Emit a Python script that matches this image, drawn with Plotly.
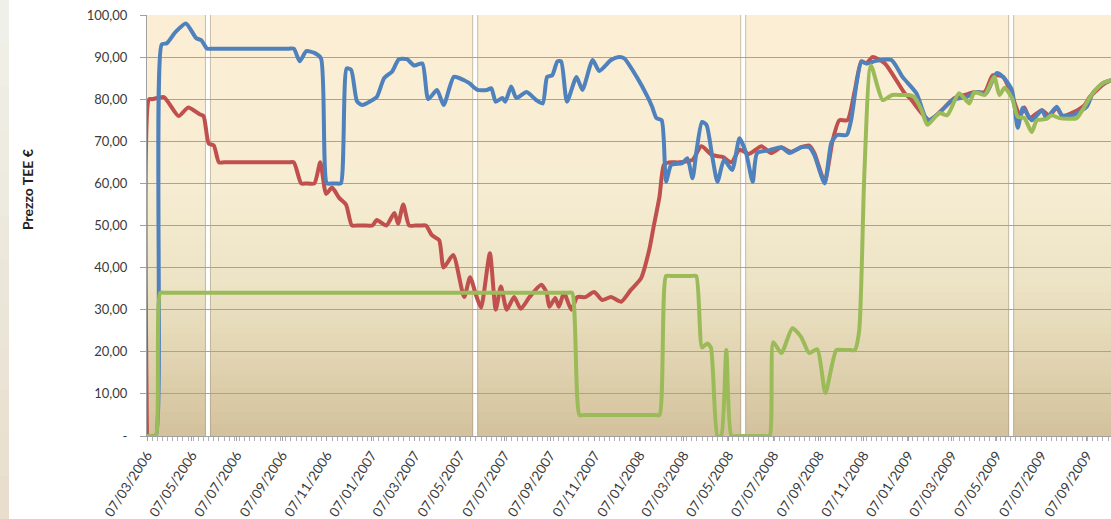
import plotly.graph_objects as go

# ---------------- data ----------------
red_dates = ["2006-03-07","2006-03-10","2006-03-14","2006-03-30","2006-04-19","2006-05-02","2006-05-17","2006-05-23","2006-05-30","2006-06-06",
             "2006-06-13","2006-06-20","2006-07-15","2006-08-15","2006-09-01","2006-09-16","2006-09-23","2006-10-03","2006-10-10","2006-10-21",
             "2006-10-29","2006-11-06","2006-11-14","2006-11-24","2006-12-03","2006-12-11","2006-12-18","2006-12-28","2007-01-08","2007-01-14",
             "2007-01-27","2007-02-07","2007-02-12","2007-02-19","2007-02-27","2007-03-08","2007-03-15","2007-03-22","2007-03-30","2007-04-09",
             "2007-04-15","2007-04-28","2007-05-13","2007-05-21","2007-05-30","2007-06-05","2007-06-17","2007-06-25","2007-07-02","2007-07-10",
             "2007-07-20","2007-07-29","2007-08-10","2007-08-26","2007-09-02","2007-09-06","2007-09-14","2007-09-19","2007-09-26","2007-10-06",
             "2007-10-14","2007-10-25","2007-11-06","2007-11-17","2007-11-29","2007-12-13","2007-12-26","2008-01-09","2008-01-20","2008-01-26",
             "2008-02-03","2008-02-09","2008-02-16","2008-03-01","2008-03-19","2008-03-31","2008-04-15","2008-04-29","2008-05-11","2008-05-22",
             "2008-06-04","2008-06-21","2008-07-04","2008-07-18","2008-07-31","2008-08-14","2008-08-25","2008-09-01","2008-09-15","2008-09-26",
             "2008-10-05","2008-10-16","2008-10-26","2008-11-04","2008-11-11","2008-11-19","2008-12-06","2009-01-02","2009-01-09","2009-01-25",
             "2009-02-05","2009-02-25","2009-03-11","2009-03-25","2009-04-07","2009-04-21","2009-05-02","2009-05-16","2009-05-25","2009-06-01",
             "2009-06-08","2009-06-14","2009-06-21","2009-07-08","2009-07-18","2009-07-28","2009-08-05","2009-08-21","2009-09-04","2009-09-11",
             "2009-09-21","2009-10-02","2009-10-10"]
red_values = [0, 80, 80, 80.5, 76, 78, 76.5, 76, 69.5, 69,
              65, 65, 65, 65, 65, 65, 65, 60, 60, 60,
              65, 57.5, 59, 56.5, 55, 50, 50, 50, 50, 51.3,
              50, 53, 50.4, 55, 50, 50, 50, 50, 47.7, 46.5,
              40, 43, 33, 37.7, 33, 30.5, 43.4, 30, 35.5, 30,
              33, 30.2, 33, 35.9, 34.2, 30.7, 32.8, 30.7, 34, 30,
              33, 33, 34.2, 32.3, 33, 31.9, 34.7, 37.5, 44.2, 49.7,
              56.8, 64.4, 65, 65, 65.6, 68.8, 66.7, 66.3, 65, 68,
              67, 68.8, 67.2, 68.5, 67.5, 68.6, 69, 67.2, 60.5, 70.3,
              75, 75, 82, 89, 88.5, 90, 88.5, 81.4, 80.3, 76.7,
              75, 78, 80.3, 81, 81.7, 81.7, 85.7, 85.3, 82.2, 79,
              76, 78, 75.5, 77.4, 76, 78, 76, 77, 78.6, 80.5,
              82.2, 83.8, 84.5]

blue_dates = ["2006-03-07","2006-03-13","2006-03-19","2006-03-27","2006-04-03","2006-04-15","2006-04-29","2006-05-13","2006-05-20","2006-05-28",
              "2006-06-04","2006-07-01","2006-08-01","2006-09-01","2006-09-16","2006-09-23","2006-10-01","2006-10-10","2006-10-21","2006-10-30",
              "2006-11-07","2006-11-14","2006-11-20","2006-11-26","2006-12-04","2006-12-10","2006-12-18","2006-12-25","2007-01-08","2007-01-14",
              "2007-01-24","2007-02-04","2007-02-13","2007-02-24","2007-03-06","2007-03-17","2007-03-25","2007-04-06","2007-04-15","2007-04-29",
              "2007-05-13","2007-05-20","2007-05-31","2007-06-13","2007-06-19","2007-06-25","2007-07-04","2007-07-08","2007-07-16","2007-07-23",
              "2007-08-06","2007-08-19","2007-08-28","2007-09-03","2007-09-10","2007-09-17","2007-09-22","2007-09-30","2007-10-13","2007-10-21",
              "2007-11-04","2007-11-13","2007-11-29","2007-12-10","2007-12-17","2008-01-03","2008-01-18","2008-01-24","2008-01-30","2008-02-06",
              "2008-02-12","2008-02-19","2008-03-05","2008-03-12","2008-03-19","2008-03-25","2008-04-01","2008-04-07","2008-04-15","2008-04-22",
              "2008-05-01","2008-05-12","2008-05-22","2008-05-31","2008-06-09","2008-06-15","2008-07-02","2008-07-18","2008-07-29","2008-08-14",
              "2008-08-25","2008-09-01","2008-09-15","2008-09-24","2008-10-02","2008-10-15","2008-10-21","2008-11-04","2008-11-12","2008-11-24",
              "2008-12-15","2008-12-30","2009-01-18","2009-02-02","2009-02-18","2009-03-08","2009-03-27","2009-04-10","2009-04-23","2009-05-07",
              "2009-05-16","2009-05-28","2009-06-05","2009-06-12","2009-06-24","2009-07-08","2009-07-14","2009-07-28","2009-08-04","2009-08-19",
              "2009-09-07","2009-09-15","2009-09-29","2009-10-10"]
blue_values = [0, 0, 0, 93, 93.3, 96, 98, 94.5, 94, 92,
               92, 92, 92, 92, 92, 92, 89, 91.4, 91, 89.7,
               60, 60, 60, 60, 87.3, 87, 79.5, 78.6, 79.8, 80.5,
               85, 86.6, 89.5, 89.5, 88, 88.5, 80, 82.2, 78.6, 85.3,
               84.5, 83.8, 82.2, 82.2, 82.6, 79.4, 80.3, 79.4, 83, 80.3,
               81.7, 79.8, 79, 85.3, 85.7, 89, 89, 79.4, 85.3, 82.2,
               89.3, 86.7, 89.3, 90, 89.7, 85.3, 80.5, 78.2, 75.5, 75,
               60.4, 64.4, 64.8, 66, 61.2, 68.4, 74.6, 73.9, 66.3, 60.4,
               65.6, 63.2, 70.7, 67.2, 60.4, 67.2, 67.9, 68.6, 67.2, 68.6,
               68.6, 66.7, 60, 69.6, 71.5, 71.5, 75, 88.8, 88.5, 89.1,
               89.3, 85.3, 81.4, 75, 76.7, 79.8, 80.5, 81.7, 81.4, 86.2,
               85.3, 82.2, 73.2, 78, 75, 77.4, 75.5, 78.2, 76.2, 76.2,
               78.2, 81.4, 83.8, 84.5]

green_dates = ["2006-03-07","2006-03-13","2006-03-19","2006-03-25","2006-04-01","2006-05-01","2006-07-01","2006-10-01","2007-01-01","2007-04-01",
               "2007-07-01","2007-09-15","2007-09-30","2007-10-07","2007-10-17","2007-10-24","2007-11-15","2007-12-15","2008-01-15","2008-01-27",
               "2008-02-03","2008-02-12","2008-02-19","2008-03-05","2008-03-17","2008-03-24","2008-04-01","2008-04-08","2008-04-13","2008-04-22",
               "2008-04-27","2008-05-04","2008-05-11","2008-05-18","2008-06-01","2008-06-15","2008-06-25","2008-07-02","2008-07-07","2008-07-18",
               "2008-08-02","2008-08-14","2008-08-25","2008-09-05","2008-09-16","2008-10-01","2008-10-12","2008-10-20","2008-10-26","2008-11-01",
               "2008-11-08","2008-11-17","2008-12-03","2008-12-16","2008-12-30","2009-01-08","2009-01-15","2009-01-25","2009-02-02","2009-02-18",
               "2009-03-01","2009-03-17","2009-03-31","2009-04-07","2009-04-21","2009-05-04","2009-05-11","2009-05-18","2009-05-28","2009-06-05",
               "2009-06-14","2009-06-24","2009-07-01","2009-07-14","2009-07-21","2009-08-01","2009-08-24","2009-09-01","2009-09-15","2009-09-29",
               "2009-10-10"]
green_values = [0, 0, 0, 34, 34, 34, 34, 34, 34, 34,
                34, 34, 34, 34, 5, 5, 5, 5, 5, 5,
                5, 38, 38, 38, 38, 38, 21, 22, 21, 0,
                0, 20.4, 0, 0, 0, 0, 0, 0, 22.3, 19.7,
                25.6, 23.5, 19.7, 20.6, 10.2, 20.4, 20.4, 20.4, 20.4, 25,
                62, 88, 79.8, 81, 81, 81, 80.5, 77.4, 73.9, 76.7,
                76.2, 81.4, 79, 81.7, 81, 85.3, 81, 82.7, 80.3, 75.8,
                75.5, 72.2, 75, 75.3, 76.2, 75.5, 75.5, 77.4, 81.4, 83.8,
                84.5]

assert len(red_dates) == len(red_values)
assert len(blue_dates) == len(blue_values)
assert len(green_dates) == len(green_values)

y_tick_values = [0, 10, 20, 30, 40, 50, 60, 70, 80, 90, 100]
y_tick_labels = ["-", "10,00", "20,00", "30,00", "40,00", "50,00", "60,00", "70,00", "80,00", "90,00", "100,00"]
separator_dates = ["2006-05-29", "2007-05-28", "2008-05-27", "2009-05-27"]
x_start, x_end = "2006-03-07", "2009-10-10"
y_title = "Prezzo TEE €"

# ---------------- figure ----------------
W, H = 1111, 519
ML, MR, MT, MB = 147, 0, 15, 83
PW, PH = W - ML - MR, H - MT - MB

fig = go.Figure()
series = [
    (red_dates, red_values, "#C0504D"),
    (blue_dates, blue_values, "#4F81BD"),
    (green_dates, green_values, "#9BBB59"),
]
for d, v, c in series:
    fig.add_trace(go.Scatter(x=d, y=v, mode="lines",
                             line=dict(color=c, width=4, shape="spline", smoothing=0.6),
                             showlegend=False, hoverinfo="skip"))

shapes = []

# plot-area vertical gradient (decorative background)
stops = [(0.0, (210, 193, 155)), (0.15, (223, 209, 174)), (0.35, (236, 226, 196)),
         (0.6, (247, 237, 211)), (1.0, (252, 238, 212))]

def grad(f):
    for (f0, c0), (f1, c1) in zip(stops[:-1], stops[1:]):
        if f0 <= f <= f1:
            t = (f - f0) / (f1 - f0)
            return "rgb(%d,%d,%d)" % tuple(round(a + (b - a) * t) for a, b in zip(c0, c1))
    return "rgb(%d,%d,%d)" % stops[-1][1]

N = 70
for i in range(N):
    f0 = i / N
    f1 = (i + 1) / N
    shapes.append(dict(type="rect", xref="paper", yref="paper", x0=0, x1=1,
                       y0=f0, y1=min(1, f1 + 0.002), fillcolor=grad((f0 + f1) / 2),
                       line=dict(width=0), layer="below"))

# thin page strip at far left
for i in range(12):
    f = i / 12
    top = (240, 242, 235)
    bot = (233, 222, 206)
    col = "rgb(%d,%d,%d)" % tuple(round(b + (t - b) * f) for t, b in zip(top, bot))
    y0 = -MB / PH + f * (H / PH)
    y1 = -MB / PH + (i + 1) / 12 * (H / PH)
    shapes.append(dict(type="rect", xref="paper", yref="paper", x0=-ML / PW, x1=(9 - ML) / PW,
                       y0=y0, y1=y1 + 0.003, fillcolor=col, line=dict(width=0), layer="below"))

# year separators
for d in separator_dates:
    shapes.append(dict(type="line", xref="x", yref="paper", x0=d, x1=d, y0=0, y1=1,
                       line=dict(color="rgba(160,150,130,0.55)", width=6), layer="between"))
    shapes.append(dict(type="line", xref="x", yref="paper", x0=d, x1=d, y0=0, y1=1,
                       line=dict(color="white", width=4), layer="between"))

font_family = "Lato, 'Open Sans', sans-serif"

fig.update_layout(
    width=W, height=H,
    margin=dict(l=ML, r=MR, t=MT, b=MB, pad=0),
    paper_bgcolor="white",
    plot_bgcolor="rgba(0,0,0,0)",
    shapes=shapes,
    font=dict(family=font_family, color="#3a3a3a"),
    xaxis=dict(
        type="date", range=[x_start, x_end], tick0=x_start, dtick="M2",
        tickformat="%d/%m/%Y", tickangle=-57,
        ticks="outside", ticklen=4, tickcolor="#a0a0a0",
        showline=True, linecolor="#a0a0a0", linewidth=1,
        showgrid=False, zeroline=False,
        minor=dict(ticks="outside", ticklen=4, tickcolor="#b0b0b0", dtick=7 * 86400000, tick0=x_start, showgrid=False),
        tickfont=dict(size=13.5, color="#3a3a3a", family=font_family),
        ticklabelstandoff=1, ticklabelshift=0,
        automargin=False,
    ),
    yaxis=dict(
        range=[0, 100], tickmode="array", tickvals=y_tick_values, ticktext=y_tick_labels,
        showgrid=True, gridcolor="#a3a3a3", gridwidth=1,
        ticks="outside", ticklen=6, tickcolor="#a0a0a0",
        showline=True, linecolor="#a0a0a0", linewidth=1, zeroline=False,
        tickfont=dict(size=13, color="#3a3a3a", family=font_family),
        ticklabelstandoff=10,
        automargin=False,
    ),
    annotations=[dict(text="<b>" + y_title + "</b>", xref="paper", yref="paper",
                      x=(27 - ML) / PW, y=(H - MB - 190) / PH, xanchor="center", yanchor="middle",
                      textangle=-90, showarrow=False,
                      font=dict(size=14, color="#222222", family=font_family))],
)

fig.write_html("out.html", config={"displayModeBar": False},
               post_script="document.body.style.margin='0';document.body.style.overflow='hidden';")
